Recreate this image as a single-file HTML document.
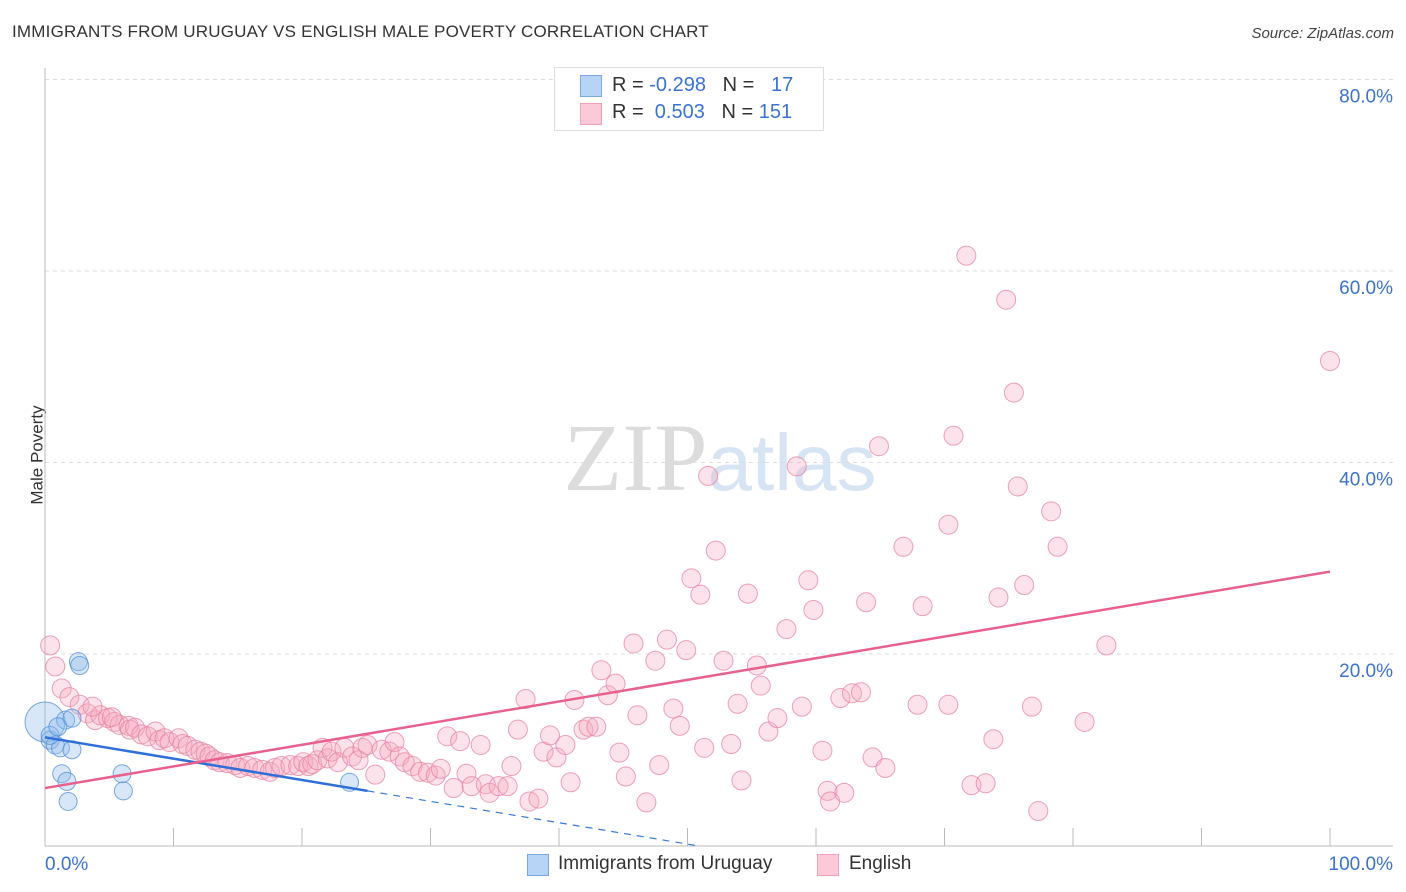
<!DOCTYPE html>
<html><head><meta charset="utf-8"><style>
body{margin:0;background:#fff;font-family:"Liberation Sans",sans-serif;}
#wrap{position:relative;width:1406px;height:892px;overflow:hidden;}
.t{position:absolute;white-space:nowrap;}
</style></head><body>
<div id="wrap">
<div class="t" style="left:12px;top:22px;font-size:17px;color:#333;letter-spacing:0.2px;">IMMIGRANTS FROM URUGUAY VS ENGLISH MALE POVERTY CORRELATION CHART</div>
<div class="t" style="right:12px;top:25px;font-size:15px;color:#444;font-style:italic;">Source: ZipAtlas.com</div>
<div class="t" style="left:-12px;top:445px;font-size:17px;color:#333;transform:rotate(-90deg);">Male Poverty</div>
<svg id="plot" width="1406" height="892" style="position:absolute;left:0;top:0">
<text x="720" y="490" text-anchor="middle" font-family="Liberation Serif,serif" font-size="96" fill="#e4e4e4"><tspan fill="#dcdcdc">ZIP</tspan><tspan fill="#d6e4f3" font-family="Liberation Sans,sans-serif" font-size="80">atlas</tspan></text>
</svg>
<div style="position:absolute;left:554px;top:67px;width:268px;height:62px;border:1px solid #ddd;background:#fff;"></div>
<div style="position:absolute;left:580px;top:75px;width:20px;height:20px;background:#b7d3f5;border:1px solid #7aa8e3;"></div>
<div style="position:absolute;left:580px;top:103px;width:20px;height:20px;background:#fcc9d8;border:1px solid #f0a0b8;"></div>
<div class="t" style="left:612px;top:74px;font-size:20px;color:#333;">R = <span style="color:#3b73d4">-0.298</span>&nbsp;&nbsp;&nbsp;N = &nbsp;&nbsp;<span style="color:#3b73d4">17</span></div>
<div class="t" style="left:612px;top:101px;font-size:20px;color:#333;">R = &nbsp;<span style="color:#3b73d4">0.503</span>&nbsp;&nbsp;&nbsp;N = <span style="color:#3b73d4">151</span></div>
<div style="position:absolute;left:527px;top:854px;width:20px;height:20px;background:#b7d3f5;border:1px solid #7aa8e3;"></div>
<div class="t" style="left:558px;top:853px;font-size:19px;color:#333;">Immigrants from Uruguay</div>
<div style="position:absolute;left:817px;top:854px;width:20px;height:20px;background:#fcc9d8;border:1px solid #f0a0b8;"></div>
<div class="t" style="left:849px;top:853px;font-size:19px;color:#333;">English</div>
</div>
<script>
const yTicks=[20,40,60,80];
const xLabels=["0.0%","100.0%"];
const blueX=[0,0.4,0.8,1.2,2.1,1.6,2.1,2.6,2.7,1.3,1.7,1.8,6.0,6.1,23.7,0.4,1.0];
const blueY=[12.9,11.0,10.5,10.2,10.0,13.1,13.3,19.2,18.8,7.5,6.7,4.6,7.5,5.7,6.6,11.5,12.4];
const pinkX=[0.4,0.8,1.3,1.9,2.7,3.3,3.9,4.3,4.9,5.4,5.8,6.5,6.6,7.0,7.5,8.0,8.6,8.9,9.3,9.7,10.4,10.7,11.1,11.7,12.1,12.5,12.8,13.2,13.6,14.2,14.8,15.2,15.8,16.3,16.9,17.5,17.9,18.4,19.1,19.7,20.1,20.5,20.8,21.2,21.6,22.0,22.3,22.8,23.3,23.9,24.4,24.7,25.1,25.7,26.2,26.8,27.2,27.6,28.0,28.6,29.2,29.8,30.4,3.7,5.2,
30.8,31.8,31.3,32.3,33.9,32.8,33.2,34.3,34.6,35.3,36.0,36.3,36.8,37.4,37.7,38.4,38.8,39.3,39.8,40.5,40.9,41.2,41.9,42.3,42.9,43.3,43.8,44.4,44.7,45.2,45.8,46.1,46.8,47.5,47.8,48.4,48.9,49.4,49.9,51.3,52.8,53.4,53.9,54.2,55.4,55.7,56.3,57.0,57.7,58.9,60.5,60.9,61.1,62.2,61.9,62.8,63.5,64.4,65.4,67.9,
71.7,74.8,100,75.4,64.9,70.7,51.6,58.5,75.7,70.3,78.3,66.8,52.2,78.8,50.3,59.4,54.7,51.0,76.2,74.2,63.9,68.3,59.8,82.6,70.3,76.8,80.9,73.8,72.1,73.2,77.3];
const pinkY=[20.9,18.7,16.4,15.5,14.7,13.8,13.1,13.6,13.3,12.9,12.6,12.5,12.1,12.3,11.6,11.4,11.9,11.0,11.2,10.8,11.2,10.6,10.4,10.0,9.8,9.6,9.3,8.9,8.7,8.6,8.4,8.1,8.3,8.1,7.9,7.7,8.1,8.3,8.4,8.3,8.7,8.3,8.5,8.9,10.2,9.1,9.8,8.7,10.2,9.3,8.9,10.2,10.5,7.4,10.0,9.8,10.8,9.3,8.7,8.3,7.7,7.6,7.3,14.5,13.4,
8.0,6.0,11.4,10.9,10.5,7.5,6.2,6.4,5.5,6.2,6.2,8.3,12.1,15.3,4.6,4.9,9.8,11.5,9.2,10.5,6.6,15.2,12.1,12.4,12.4,18.3,15.7,16.9,9.7,7.2,21.1,13.6,4.5,19.3,8.4,21.5,14.3,12.5,20.4,10.2,19.3,10.6,14.8,6.8,18.8,16.7,11.9,13.3,22.6,14.5,9.9,5.7,4.6,5.5,15.4,15.9,16.0,9.2,8.1,14.7,
61.6,57.0,50.6,47.3,41.7,42.8,38.6,39.6,37.5,33.5,34.9,31.2,30.8,31.2,27.9,27.7,26.3,26.2,27.2,25.9,25.4,25.0,24.6,20.9,14.7,14.5,12.9,11.1,6.3,6.5,3.6];
const blueTrend=[11.3,-0.223];
const pinkTrend=[6.0,0.226];
const blueSolidEnd=25.1;

const X0=45,X1=1330,Y0=845.5,YS=9.575;
function sx(v){return X0+(X1-X0)*v/100;}
function sy(v){return Y0-v*YS;}
const svg=document.getElementById('plot');
const NS='http://www.w3.org/2000/svg';
function mk(tag,attrs){const e=document.createElementNS(NS,tag);for(const k in attrs)e.setAttribute(k,attrs[k]);svg.appendChild(e);return e;}
const gl=mk('g',{});


yTicks.forEach(v=>{
  const l=document.createElementNS(NS,'line');
  l.setAttribute('x1',45);l.setAttribute('x2',1393);l.setAttribute('y1',sy(v));l.setAttribute('y2',sy(v));
  l.setAttribute('stroke','#ddd');l.setAttribute('stroke-dasharray','4,4');
  
  
  gl.appendChild(l);
  const t=mk('text',{x:1393,y:sy(v)+23,'text-anchor':'end','font-size':19,fill:'#3b73d4','font-family':'Liberation Sans,sans-serif'});
  t.textContent=v.toFixed(1)+'%';
  
  
});
const ax=mk('line',{x1:45,x2:45,y1:68,y2:846,stroke:'#bbb'});


const bx=mk('line',{x1:45,x2:1393,y1:846,y2:846,stroke:'#bbb'});


for(let i=1;i<=10;i++){
  const tk=mk('line',{x1:sx(i*10),x2:sx(i*10),y1:828,y2:846,stroke:'#bbb'});
  
  
}
const xl0=mk('text',{x:45,y:870,'font-size':19,fill:'#3b73d4','font-family':'Liberation Sans,sans-serif'});
xl0.textContent=xLabels[0];


const xl1=mk('text',{x:1393,y:870,'text-anchor':'end','font-size':19,fill:'#3b73d4','font-family':'Liberation Sans,sans-serif'});
xl1.textContent=xLabels[1];


pinkX.forEach((x,i)=>{
  const c=mk('circle',{cx:sx(x),cy:sy(pinkY[i]),r:9.5,fill:'rgba(246,168,192,0.32)',stroke:'rgba(232,130,162,0.75)','stroke-width':1});
  
  
});
blueX.forEach((x,i)=>{
  const c=mk('circle',{cx:sx(x),cy:sy(blueY[i]),r:i===0?20:9,fill:'rgba(140,185,235,0.35)',stroke:'rgba(80,140,215,0.75)','stroke-width':1});
  
  
});
const blueZero=-blueTrend[0]/blueTrend[1];
const bd=mk('line',{x1:sx(blueSolidEnd),y1:sy(blueTrend[0]+blueTrend[1]*blueSolidEnd),x2:sx(blueZero),y2:sy(0),stroke:'#3b78d8','stroke-width':1.2,'stroke-dasharray':'7,6'});


const bt=mk('line',{x1:sx(0),y1:sy(blueTrend[0]),x2:sx(blueSolidEnd),y2:sy(blueTrend[0]+blueTrend[1]*blueSolidEnd),stroke:'#2f6fd6','stroke-width':2.5});


const pt=mk('line',{x1:sx(0),y1:sy(pinkTrend[0]),x2:sx(100),y2:sy(pinkTrend[0]+pinkTrend[1]*100),stroke:'#e8608e','stroke-width':2.5});


</script>
</body></html>
